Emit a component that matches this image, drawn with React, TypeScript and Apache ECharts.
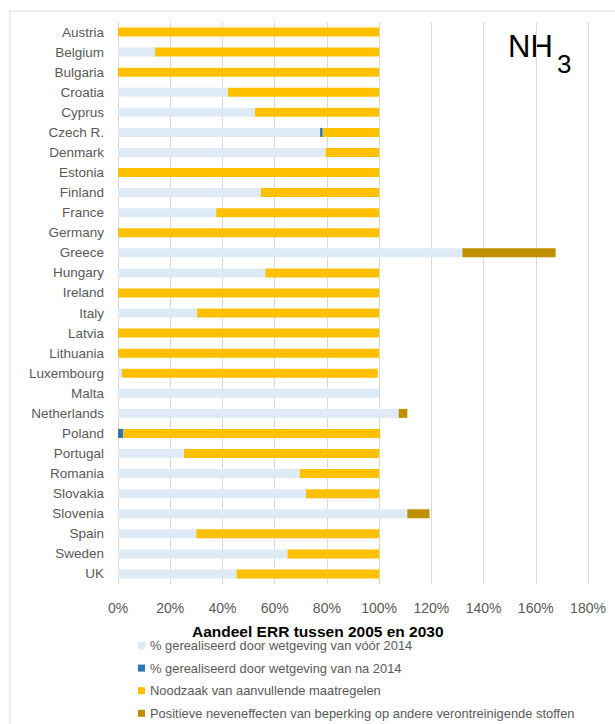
import React, { useEffect, useRef } from "react";
import * as echarts from "echarts";

const countries = [
  "Austria", "Belgium", "Bulgaria", "Croatia", "Cyprus", "Czech R.", "Denmark",
  "Estonia", "Finland", "France", "Germany", "Greece", "Hungary", "Ireland",
  "Italy", "Latvia", "Lithuania", "Luxembourg", "Malta", "Netherlands", "Poland",
  "Portugal", "Romania", "Slovakia", "Slovenia", "Spain", "Sweden", "UK",
];

const seriesNames = [
  "% gerealiseerd door wetgeving van vóór 2014",
  "% gerealiseerd door wetgeving van na 2014",
  "Noodzaak van aanvullende maatregelen",
  "Positieve neveneffecten van beperking op andere verontreinigende stoffen",
];

const pre2014 = [
  0, 14.2, 0, 42.1, 52.5, 77.4, 79.5, 0, 54.7, 37.6, 0, 131.9, 56.4, 0,
  30.3, 0, 0, 1.5, 100, 107.5, 0, 25.3, 69.6, 72, 110.8, 30, 64.9, 45.4,
];
const post2014 = [
  0, 0, 0, 0, 0, 1.0, 0, 0, 0, 0, 0, 0, 0, 0,
  0, 0, 0, 0, 0, 0, 2.0, 0, 0, 0, 0, 0, 0, 0,
];
const additional = [
  100, 85.8, 100, 57.9, 47.5, 21.6, 20.5, 100, 45.3, 62.4, 100, 0, 43.6, 100,
  69.7, 100, 100, 98, 0, 0, 98.4, 74.7, 30.4, 28, 0, 70, 35.1, 54.6,
];
const sideEffects = [
  0, 0, 0, 0, 0, 0, 0, 0, 0, 0, 0, 35.7, 0, 0,
  0, 0, 0, 0, 0, 3.3, 0, 0, 0, 0, 8.5, 0, 0, 0,
];

const colors = ["#DEEBF7", "#2E75B6", "#FFC000", "#BF9000"];
const FONT = "Liberation Sans";

export default function App() {
  const ref = useRef<HTMLDivElement>(null);
  useEffect(() => {
    if (!ref.current) return;
    const chart = echarts.init(ref.current, undefined, { renderer: "svg" });
    const values = [pre2014, post2014, additional, sideEffects];
    chart.setOption({
      animation: false,
      textStyle: { fontFamily: FONT },
      grid: { left: 118, right: 27, top: 22, bottom: 140 },
      xAxis: {
        type: "value",
        min: 0,
        max: 180,
        interval: 20,
        axisLine: { show: false },
        axisTick: { show: false },
        splitLine: { lineStyle: { color: "#D9D9D9", width: 1 } },
        axisLabel: {
          formatter: "{value}%",
          color: "#595959",
          fontSize: 14,
          fontFamily: FONT,
          margin: 17,
        },
      },
      yAxis: {
        type: "category",
        data: countries,
        inverse: true,
        axisLine: { show: false },
        axisTick: { show: false },
        axisLabel: { color: "#595959", fontSize: 13.5, fontFamily: FONT, margin: 14 },
      },
      legend: {
        orient: "vertical",
        left: 138,
        top: 639,
        height: 120,
        width: 480,
        padding: 0,
        itemWidth: 7,
        itemHeight: 7,
        itemGap: 9.6,
        icon: "rect",
        textStyle: { color: "#595959", fontSize: 12.9, lineHeight: 12.9, fontFamily: FONT },
        data: seriesNames,
      },
      graphic: [
        {
          type: "rect",
          shape: { x: 10, y: 11, width: 700, height: 800 },
          style: { fill: "none", stroke: "#D9D9D9", lineWidth: 1 },
          silent: true,
        },
        {
          type: "text",
          left: 192,
          top: 623,
          style: {
            text: "Aandeel ERR tussen 2005 en 2030",
            fill: "#000000",
            font: `bold 15.5px "${FONT}"`,
          },
        },
        {
          type: "text",
          x: 508,
          y: 31,
          style: {
            text: "NH",
            fill: "#000000",
            font: `31px "${FONT}"`,
            verticalAlign: "top",
          },
        },
        {
          type: "text",
          x: 557,
          y: 51,
          style: {
            text: "3",
            fill: "#000000",
            font: `26px "${FONT}"`,
            verticalAlign: "top",
          },
        },
      ],
      series: seriesNames.map((name, i) => ({
        name,
        type: "bar",
        stack: "total",
        barWidth: 9,
        itemStyle: { color: colors[i] },
        data: values[i],
      })),
    });
    return () => chart.dispose();
  }, []);
  return (
    <div
      ref={ref}
      style={{ position: "absolute", left: 0, top: 0, width: 615, height: 724 }}
    />
  );
}
